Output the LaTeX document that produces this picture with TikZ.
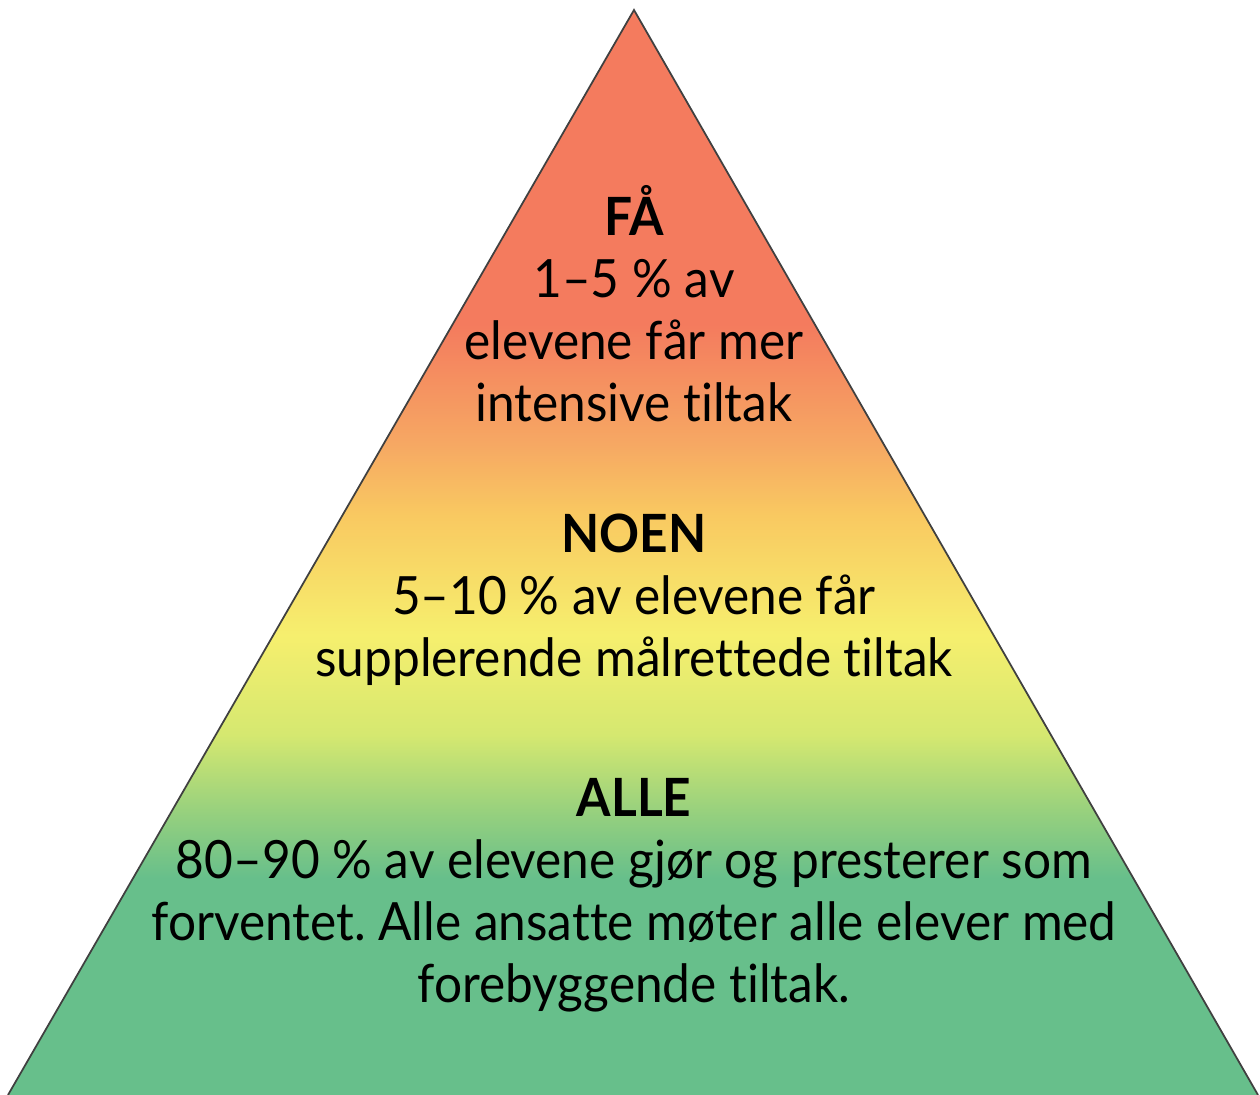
\documentclass[tikz,border=0pt]{standalone}
\usepackage{fontspec}
\setmainfont{Lato}[FakeStretch=0.94,Ligatures=NoCommon]
\usetikzlibrary{positioning}
\frenchspacing
\definecolor{pyr_red}{HTML}{F47B5E}
\definecolor{pyr_orange}{HTML}{F6A863}
\definecolor{pyr_lorange}{HTML}{F9C961}
\definecolor{pyr_yellow}{HTML}{F6EF6E}
\definecolor{pyr_ygreen}{HTML}{D5E870}
\definecolor{pyr_lgreen}{HTML}{96D07E}
\definecolor{pyr_green}{HTML}{67BF8B}
\pgfdeclareverticalshading{pyramid}{100bp}{color(0bp)=(pyr_green); color(35bp)=(pyr_green);
  color(38bp)=(pyr_lgreen); color(41.6bp)=(pyr_ygreen); color(46.2bp)=(pyr_yellow);
  color(51.7bp)=(pyr_lorange); color(55bp)=(pyr_orange); color(60.5bp)=(pyr_red);
  color(100bp)=(pyr_red)}
\tikzstyle{level}=[align=center,inner sep=0pt,font=\fontsize{15}{17.6}\selectfont]
\tikzstyle{none}=[]

\begin{document}
\begin{tikzpicture}[x=0.01cm,y=-0.01cm]
            \useasboundingbox (0,0) rectangle (1260,1095);
            \coordinate (top) at (634, 10);
            \coordinate (left) at (8, 1095);
            \coordinate (right) at (1258, 1095);
            \shade [shading=pyramid] (top) -- (left) -- (right) -- cycle;
            \draw [line width=0.5pt, draw=black!75] (left) -- (top) -- (right);
            \node [style=level] (fa) at (634, 304) {\textbf{FÅ}\\1–5 \% av\\elevene får mer\\intensive tiltak};
            \node [style=level] (noen) at (634, 600) {\textbf{NOEN}\\5–10 \% av elevene får\\supplerende målrettede tiltak};
            \node [style=level] (alle) at (634, 895) {\textbf{ALLE}\\80–90 \% av elevene gjør og presterer som\\forventet. Alle ansatte møter alle elever med\\forebyggende tiltak.};
    \end{tikzpicture}
\end{document}
